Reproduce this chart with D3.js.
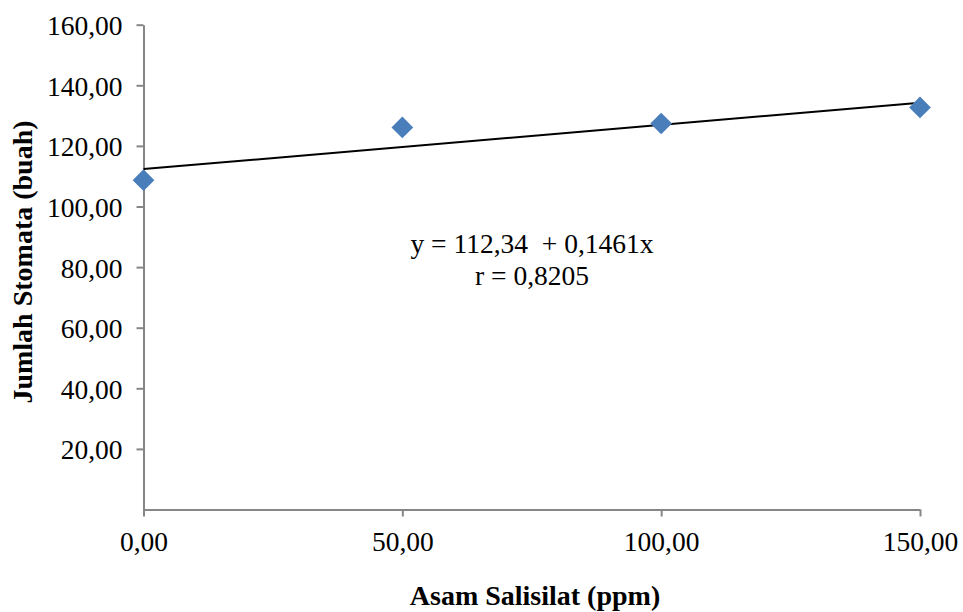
<!DOCTYPE html>
<html>
<head>
<meta charset="utf-8">
<script src="https://cdn.jsdelivr.net/npm/d3@7"></script>
<style>
  body { margin: 0; background: #fff; }
  text { font-family: "Liberation Serif", "Times New Roman", serif; fill: #000; }
</style>
</head>
<body>
<svg width="963" height="612"></svg>
<script>
var width = 963;
var height = 612;

// data
var dosis = [0, 50, 100, 150];
var stomata = [108.7, 126.1, 127.4, 132.7];
var intercept = 112.34;
var slope = 0.1461;
var xTicks = [0, 50, 100, 150];
var yTicks = [20, 40, 60, 80, 100, 120, 140, 160];
var eqLines = ['y = 112,34  + 0,1461x', 'r = 0,8205'];

var svg = d3.select('svg');

var x = d3.scaleLinear()
	.domain([0, 150])
	.range([143.5, 920]);

var y = d3.scaleLinear()
	.domain([0, 160])
	.range([509.5, 24.7]);

var fmt = function(d) { return d3.format('.2f')(d).replace('.', ','); };

var xAxis = d3.axisBottom(x)
	.tickValues(xTicks)
	.tickSize(7)
	.tickSizeOuter(0)
	.tickFormat(fmt);

var yAxis = d3.axisLeft(y)
	.tickValues(yTicks)
	.tickSize(7)
	.tickSizeOuter(0)
	.tickPadding(14)
	.tickFormat(fmt);

var gx = svg.append('g')
	.attr('transform', `translate(0,${y(0)})`)
	.call(xAxis);

var gy = svg.append('g')
	.attr('transform', `translate(${x(0)},0)`)
	.call(yAxis);

[gx, gy].forEach(function(g) {
	g.select('.domain').attr('stroke', '#868686').attr('stroke-width', 2);
	g.selectAll('.tick line').attr('stroke', '#868686').attr('stroke-width', 2);
	g.selectAll('.tick text')
		.style('font-family', '"Liberation Serif", serif')
		.style('font-size', '27.5px')
		.attr('fill', '#000');
});
gx.selectAll('.tick text').attr('y', 41.5).attr('dy', 0);
gy.selectAll('.tick text').attr('dy', '0.36em');

// trend line
svg.append('line')
	.attr('x1', x(0))
	.attr('y1', y(intercept))
	.attr('x2', x(150))
	.attr('y2', y(intercept + slope * 150))
	.attr('stroke', '#000')
	.attr('stroke-width', 2);

// points
var diamond = d3.symbol().type(d3.symbolDiamond2).size(300);
svg.selectAll('.pt')
	.data(dosis)
	.enter()
	.append('path')
	.attr('class', 'pt')
	.attr('d', diamond)
	.attr('transform', function(d, i) { return `translate(${x(d)},${y(stomata[i])})`; })
	.attr('fill', '#4a7ebb');

// equation
svg.selectAll('.eq')
	.data(eqLines)
	.enter()
	.append('text')
	.attr('class', 'eq')
	.attr('x', 532)
	.attr('y', function(d, i) { return 253 + i * 32; })
	.attr('text-anchor', 'middle')
	.style('font-size', '27.5px')
	.style('white-space', 'pre')
	.text(function(d) { return d; });

// axis titles
svg.append('text')
	.attr('x', 535)
	.attr('y', 605)
	.attr('text-anchor', 'middle')
	.style('font-size', '28px')
	.style('font-weight', 'bold')
	.text('Asam Salisilat (ppm)');

svg.append('text')
	.attr('transform', 'translate(32,262) rotate(-90)')
	.attr('text-anchor', 'middle')
	.style('font-size', '28px')
	.style('font-weight', 'bold')
	.text('Jumlah Stomata (buah)');
</script>
</body>
</html>
